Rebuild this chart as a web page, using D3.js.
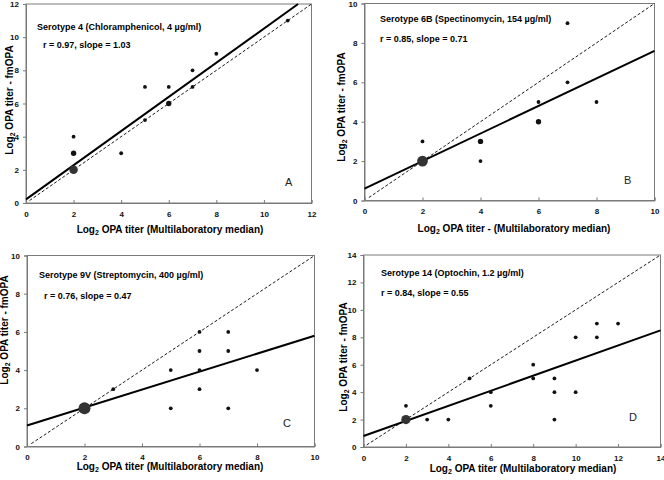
<!DOCTYPE html>
<html><head><meta charset="utf-8">
<script src="https://cdn.jsdelivr.net/npm/d3@7"></script>
<style>body{margin:0;background:#fff}svg{display:block}text{font-family:"Liberation Sans",Arial,sans-serif}</style>
</head><body><svg id="c" width="664" height="480"></svg>
<script>
// ---- data ----
const panelLetters = ["A", "B", "C", "D"];
const titles = ["Serotype 4 (Chloramphenicol, 4 µg/ml)", "Serotype 6B (Spectinomycin, 154 µg/ml)", "Serotype 9V (Streptomycin, 400 µg/ml)", "Serotype 14 (Optochin, 1.2 µg/ml)"];
const stats = ["r = 0.97, slope = 1.03", "r = 0.85, slope = 0.71", "r = 0.76, slope = 0.47", "r = 0.84, slope = 0.55"];
const xLabels = ["OPA titer (Multilaboratory median)", "OPA titer - (Multilaboratory median)", "OPA titer (Multilaboratory median)", "OPA titer (Multilaboratory median)"];
const yLabel = "OPA titer - fmOPA";
const axisMax = [12, 10, 10, 14];
const tickValues = [[0,2,4,6,8,10,12],[0,2,4,6,8,10],[0,2,4,6,8,10],[0,2,4,6,8,10,12,14]];
const intercepts = [0.22, 0.6, 1.1, 0.8];
const slopes = [1.03, 0.70, 0.47, 0.55];
// points: x (median), y (fmOPA), n (overlapping count)
const xA = [2,2,2,4,5,5,6,6,7,7,8,11];
const yA = [2,3,4,3,7,5,7,6,8,7,9,11];
const nA = [5,2,1,1,1,1,1,2,1,1,1,1];
const xB = [2,2,4,4,6,6,7,7,8];
const yB = [2,3,3,2,5,4,9,6,5];
const nB = [8,1,2,1,1,2,1,1,1];
const xC = [2,3,5,5,6,6,6,6,7,7,7,8];
const yC = [2,3,4,2,6,5,4,3,6,5,2,4];
const nC = [10,1,1,1,1,1,1,1,1,1,1,1];
const xD = [2,2,3,4,5,6,6,8,8,9,9,9,10,10,11,11,12];
const yD = [2,3,2,2,5,4,3,6,5,5,4,2,8,4,9,8,9];
const nD = [6,1,1,1,1,1,1,1,1,1,1,1,1,1,1,1,1];
const ptsX = [xA, xB, xC, xD], ptsY = [yA, yB, yC, yD], ptsN = [nA, nB, nC, nD];

// ---- layout ----
const boxes = [
  {x0: 26, x1: 311.5, y0: 203, y1: 4, ylx: 13, yly: 100, xlx: 170, xly: 233, tx: 37, ty: 30, sx: 43, sy: 48, lx: 285, ly: 186},
  {x0: 364.5, x1: 654.5, y0: 200.5, y1: 3.5, ylx: 345, yly: 107, xlx: 514, xly: 232, tx: 380, ty: 22, sx: 380, sy: 42, lx: 624, ly: 184},
  {x0: 27, x1: 314.5, y0: 446.5, y1: 255.5, ylx: 8, yly: 330, xlx: 170, xly: 470, tx: 39, ty: 278, sx: 44, sy: 299, lx: 283, ly: 427},
  {x0: 363.5, x1: 660.5, y0: 447, y1: 255, ylx: 347, yly: 357, xlx: 523, xly: 472, tx: 381, ty: 276, sx: 381, sy: 296, lx: 629, ly: 421}
];
const svg = d3.select("#c");
const rScale = d3.scaleSqrt().domain([0, 10]).range([0, 6]);
const grey = "#7a7a7a";

boxes.forEach((b, i) => {
  const x = d3.scaleLinear().domain([0, axisMax[i]]).range([b.x0, b.x1]);
  const y = d3.scaleLinear().domain([0, axisMax[i]]).range([b.y0, b.y1]);
  const g = svg.append("g");
  // frame
  g.append("rect").attr("x", b.x0).attr("y", b.y1).attr("width", b.x1 - b.x0).attr("height", b.y0 - b.y1)
    .attr("fill", "none").attr("stroke", grey).attr("stroke-width", 1);
  const ax = g.append("g").attr("transform", `translate(0,${b.y0})`)
    .call(d3.axisBottom(x).tickValues(tickValues[i]).tickSize(-3).tickPadding(8).tickFormat(d3.format("d")));
  const ay = g.append("g").attr("transform", `translate(${b.x0},0)`)
    .call(d3.axisLeft(y).tickValues(tickValues[i]).tickSize(3).tickPadding(4).tickFormat(d3.format("d")));
  [ax, ay].forEach(a => {
    a.select(".domain").attr("stroke", grey);
    a.selectAll(".tick line").attr("stroke", grey);
    a.selectAll("text").attr("font-size", 8).attr("font-weight", "bold").attr("fill", "#111")
      .style("font-family", "Liberation Sans, Arial, sans-serif");
  });
  // identity dashed line
  const m = axisMax[i];
  g.append("line").attr("x1", x(0.15)).attr("y1", y(0.15)).attr("x2", x(m)).attr("y2", y(m))
    .attr("stroke", "#000").attr("stroke-width", 0.9).attr("stroke-dasharray", "3,2");
  // regression line
  const xe = Math.min(m, (m - intercepts[i]) / slopes[i]);
  g.append("line").attr("x1", x(0)).attr("y1", y(intercepts[i])).attr("x2", x(xe)).attr("y2", y(intercepts[i] + slopes[i] * xe))
    .attr("stroke", "#000").attr("stroke-width", 2);
  // points
  const pts = ptsX[i].map((v, k) => ({x: v, y: ptsY[i][k], n: ptsN[i][k]}));
  g.selectAll("circle.p").data(pts).join("circle").attr("class", "p")
    .attr("cx", d => x(d.x)).attr("cy", d => y(d.y)).attr("r", d => rScale(d.n))
    .attr("fill", d => d.n > 2 ? "#333" : "#111");
  // texts
  g.append("text").attr("x", b.tx).attr("y", b.ty).attr("font-size", 9).attr("font-weight", "bold").text(titles[i]);
  g.append("text").attr("x", b.sx).attr("y", b.sy).attr("font-size", 9).attr("font-weight", "bold").text(stats[i]);
  g.append("text").attr("x", b.lx).attr("y", b.ly).attr("font-size", 11).attr("fill", "#222").text(panelLetters[i]);
  const xl = g.append("text").attr("x", b.xlx).attr("y", b.xly).attr("text-anchor", "middle").attr("font-size", 10).attr("font-weight", "bold");
  xl.append("tspan").text("Log");
  xl.append("tspan").attr("font-size", 7).attr("dy", 2).text("2");
  xl.append("tspan").attr("dy", -2).text(" " + xLabels[i]);
  const yl = g.append("text").attr("transform", `translate(${b.ylx},${b.yly}) rotate(-90)`).attr("text-anchor", "middle")
    .attr("font-size", 10).attr("font-weight", "bold");
  yl.append("tspan").text("Log");
  yl.append("tspan").attr("font-size", 7).attr("dy", 2).text("2");
  yl.append("tspan").attr("dy", -2).text(" " + yLabel);
});
</script></body></html>
